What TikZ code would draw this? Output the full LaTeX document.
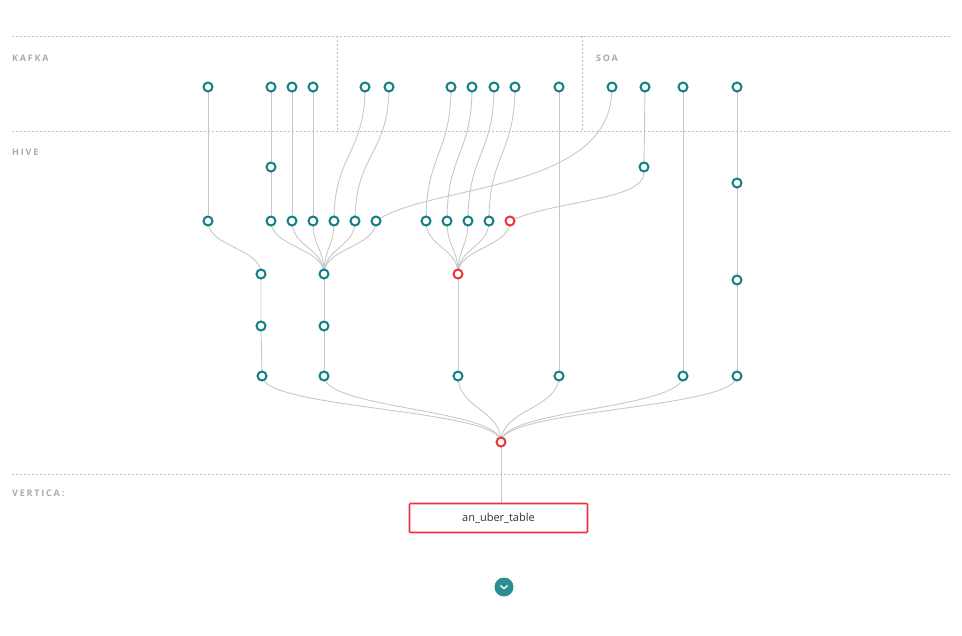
\documentclass[tikz,border=0pt]{standalone}
\usepackage{fontspec}
\setmainfont{Open Sans}
\usetikzlibrary{calc,backgrounds}
\definecolor{teal1}{RGB}{16,130,134}
\definecolor{red1}{RGB}{236,52,62}
\definecolor{edgec}{RGB}{200,200,200}
\definecolor{dashc}{RGB}{190,190,190}
\definecolor{labc}{RGB}{170,170,170}
\definecolor{txtc}{RGB}{50,50,50}
\tikzset{
  nd/.style={circle, draw=teal1, line width=2pt, fill=white, minimum size=9pt, inner sep=0pt},
  rd/.style={nd, draw=red1},
  ed/.style={draw=edgec, line width=0.9pt},
  sep/.style={draw=dashc, line width=0.8pt, dash pattern=on 2pt off 2pt},
  lab/.style={anchor=west, inner sep=0pt, text=labc, font=\fontsize{9}{10}\selectfont\bfseries\addfontfeatures{LetterSpace=20}},
}
\newcommand\vlink[2]{\draw[ed] let \p1=(#1), \p2=(#2) in (\p1) .. controls (\x1,{(\y1+\y2)/2}) and (\x2,{(\y1+\y2)/2}) .. (\p2);}
\begin{document}
\begin{tikzpicture}[x=1pt,y=-1pt]
\useasboundingbox (0,0) rectangle (962,636);
% separators
\draw[sep] (12,36) -- (950,36);
\draw[sep] (12,131) -- (950,131);
\draw[sep] (12,474) -- (950,474);
\draw[sep] (337,36) -- (337,131);
\draw[sep] (582,36) -- (582,131);
% labels
\node[lab] (lk) at (12,58.5) {KAFKA};
\node[lab] (lh) at (12,152.5) {HIVE};
\node[lab] (ls) at (596,58.5) {SOA};
\node[lab] (lv) at (12,493.5) {VERTICA:};
% top row
\foreach \nm/\x in {k1/208,k2/271,k3/292,k4/313,k5/365,k6/389,k7/451,k8/472,k9/494,k10/515,k11/559,s1/612,s2/645,s3/683,s4/737}
  \node[nd] (\nm) at (\x,87) {};
% hive
\node[nd] (a1) at (271,167) {};
\node[nd] (a2) at (644,167) {};
\node[nd] (a3) at (737,183) {};
\foreach \nm/\x in {b1/208,b2/271,b3/292,b4/313,b5/334,b6/355,b7/376,b8/426,b9/447,b10/468,b11/489}
  \node[nd] (\nm) at (\x,221) {};
\node[rd] (b12) at (510,221) {};
\node[nd] (c1) at (261,274) {};
\node[nd] (c2) at (324,274) {};
\node[rd] (c3) at (458,274) {};
\node[nd] (c4) at (737,280) {};
\node[nd] (d1) at (261,326) {};
\node[nd] (d2) at (324,326) {};
\foreach \nm/\x in {e1/262,e2/324,e3/458,e4/559,e5/683,e6/737}
  \node[nd] (\nm) at (\x,376) {};
\node[rd] (f) at (501,442) {};
\node[draw=red1, line width=1.6pt, fill=white, minimum width=178pt, minimum height=29pt, inner sep=0pt, rounded corners=1pt, text=txtc, font=\fontsize{11}{12}\selectfont] (tbl) at (498.5,518) {an\_uber\_table};
% more button
\node[circle, fill=teal1!90!white, minimum size=19pt, inner sep=0pt] (more) at (504,587) {};
\draw[white, line width=1.4pt, line cap=round, line join=round] ($(more)+(-3.2,-1.3)$) -- ($(more)+(0,1.7)$) -- ($(more)+(3.2,-1.3)$);
\begin{pgfonlayer}{background}
\draw[ed] (k1) -- (b1);
\draw[ed] (k2) -- (a1) -- (b2);
\draw[ed] (k3) -- (b3);
\draw[ed] (k4) -- (b4);
\vlink{k5}{b5}
\vlink{k6}{b6}
\vlink{k7}{b8}
\vlink{k8}{b9}
\vlink{k9}{b10}
\vlink{k10}{b11}
\draw[ed] (k11) -- (e4);
\draw[ed] (s1) .. controls (608,190) and (435,185) .. (b7);
\draw[ed] (s2) -- (a2);
\draw[ed] (a2) .. controls (644,200) and (560,200) .. (b12);
\draw[ed] (s3) -- (e5);
\draw[ed] (s4) -- (a3) -- (c4) -- (e6);
\vlink{b1}{c1}
\foreach \b in {b2,b3,b4,b5,b6,b7} {\vlink{\b}{c2}}
\foreach \b in {b8,b9,b10,b11,b12} {\vlink{\b}{c3}}
\draw[ed] (c1) -- (d1) -- (e1);
\draw[ed] (c2) -- (d2) -- (e2);
\draw[ed] (c3) -- (e3);
\foreach \e in {e1,e2,e3,e4,e5,e6} {\vlink{\e}{f}}
\draw[ed] (f) -- (tbl.north -| f);
\end{pgfonlayer}
\end{tikzpicture}
\end{document}
